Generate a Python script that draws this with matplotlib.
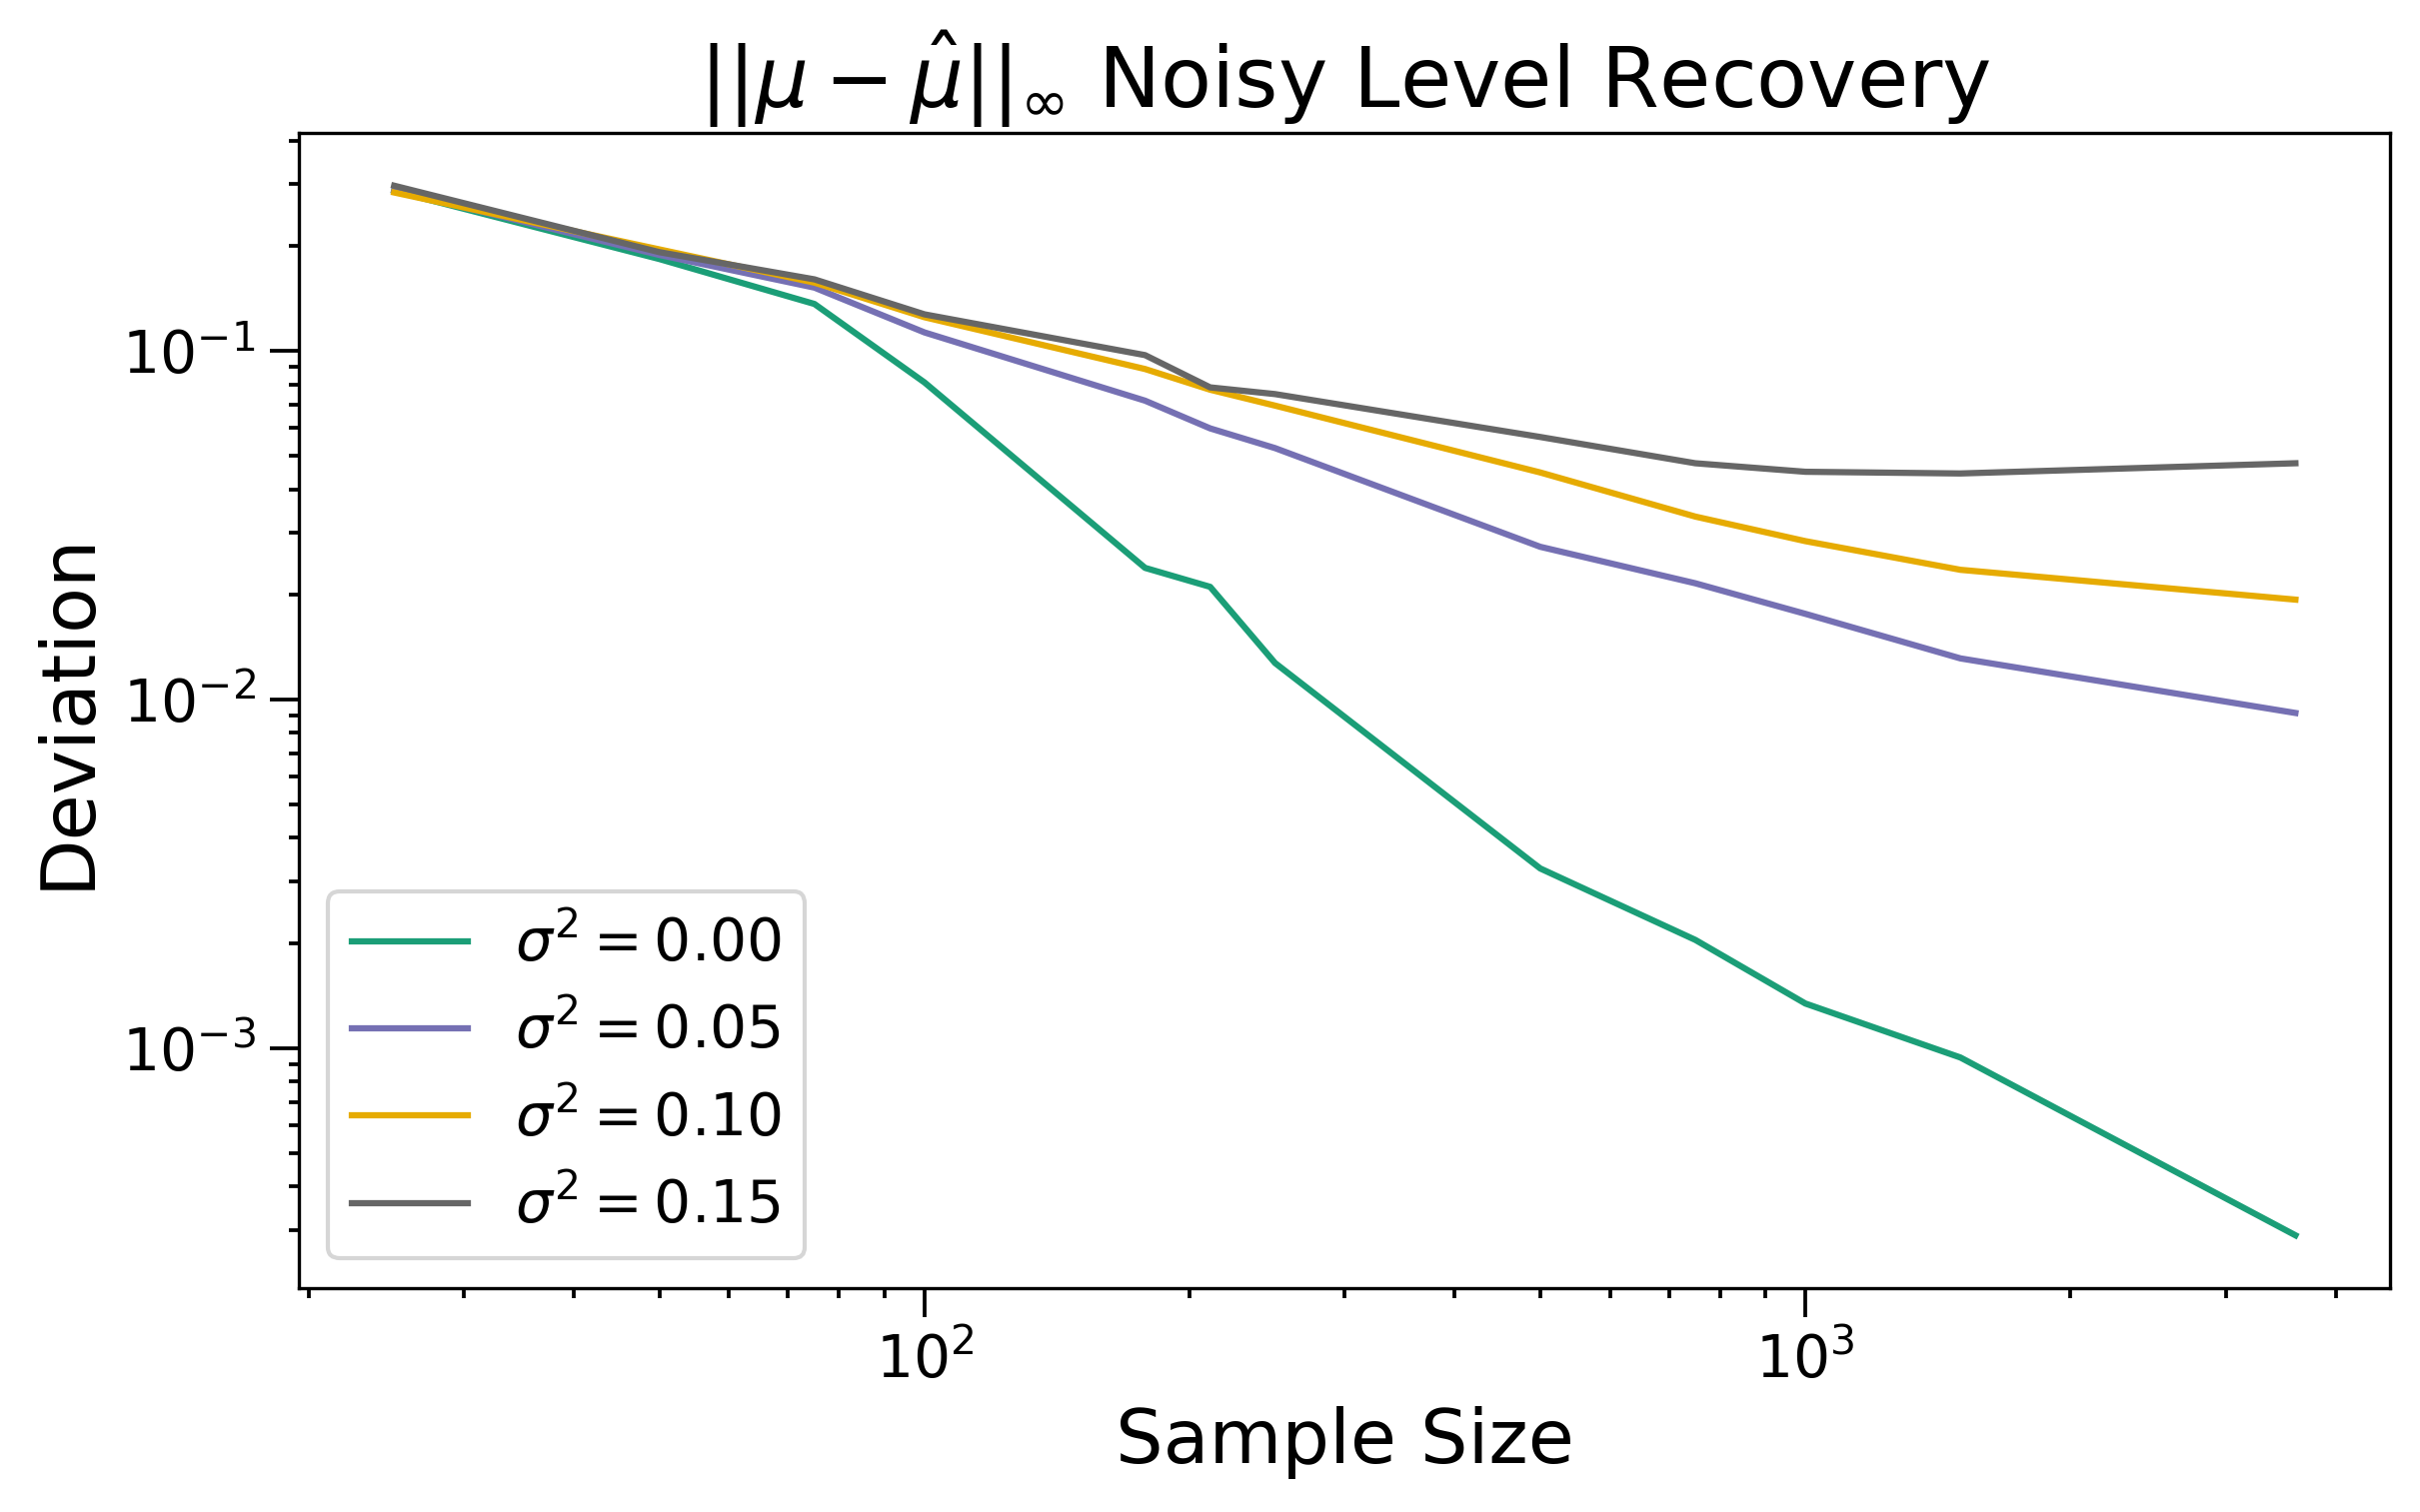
# Noisy level recovery: sup-norm deviation vs sample size, log-log

import matplotlib
matplotlib.use("Agg")
import matplotlib.pyplot as plt


sample_sizes = [25, 50, 75, 100, 178, 211, 250, 500, 750, 1000, 1500, 3600]

dev_000 = [0.287, 0.183, 0.136, 0.081, 0.0238, 0.0210, 0.0127, 0.00327, 0.00204, 0.00134, 0.000938, 0.00029]
dev_005 = [0.288, 0.188, 0.1515, 0.1127, 0.0718, 0.0598, 0.0525, 0.02736, 0.0215, 0.01757, 0.01309, 0.00913]
dev_010 = [0.284, 0.195, 0.1566, 0.1246, 0.0885, 0.0772, 0.0695, 0.0447, 0.0334, 0.0284, 0.0235, 0.0193]
dev_015 = [0.297, 0.1915, 0.160, 0.127, 0.0970, 0.0784, 0.0750, 0.0565, 0.0475, 0.0449, 0.0444, 0.0475]

labels = [r'$\sigma^2 = 0.00$', r'$\sigma^2 = 0.05$', r'$\sigma^2 = 0.10$', r'$\sigma^2 = 0.15$']


def main():

    # Dark2 colours picked from the palette
    colors = ['#1b9e77', '#7570b3', '#e6ab02', '#666666']
    series = [dev_000, dev_005, dev_010, dev_015]

    fig = plt.figure(figsize=(2421 / 300, 1513 / 300), dpi=300)
    ax = fig.add_axes([0.1236, 0.1483, 0.8642, 0.7636])

    for i in range(4):
        ax.plot(sample_sizes, series[i], color=colors[i], lw=1.5, label=labels[i])

    ax.set_xscale('log')
    ax.set_yscale('log')

    ax.set_title(r'$||\mu - \hat{\mu}||_\infty$ Noisy Level Recovery', fontsize=20)
    ax.set_xlabel('Sample Size', fontsize=18)
    ax.set_ylabel('Deviation', fontsize=18)

    ax.tick_params(which='major', length=7, width=0.9, labelsize=14)
    ax.tick_params(which='minor', length=2.5, width=0.9)

    ax.legend(loc='lower left', fontsize=14)

    fig.savefig('out.png', dpi=300)


if __name__ == "__main__":
    main()
